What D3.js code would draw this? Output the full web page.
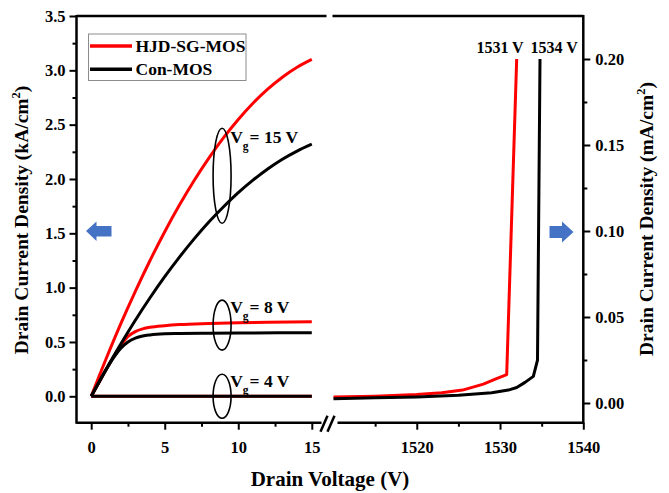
<!DOCTYPE html>
<html>
<head>
<meta charset="utf-8">
<script src="https://cdn.jsdelivr.net/npm/d3@7/dist/d3.min.js"></script>
<style>
  html, body { margin: 0; padding: 0; background: #fff; }
  svg text { font-family: "Liberation Serif", "Times New Roman", serif; font-weight: bold; fill: #000; }
</style>
</head>
<body>
<svg id="chart" width="669" height="493"></svg>
<script>
// Output characteristics (low drain voltage, kA/cm²)
const hjdVg15 = [[0,0],[1,0.341],[2,0.664],[3,0.966],[4,1.250],[5,1.515],[6,1.760],[7,1.986],[8,2.192],[9,2.380],[10,2.548],[11,2.697],[12,2.827],[13,2.937],[14,3.028],[15,3.100]];
const conVg15 = [[0,0],[1,0.246],[2,0.479],[3,0.700],[4,0.907],[5,1.101],[6,1.281],[7,1.449],[8,1.604],[9,1.745],[10,1.874],[11,1.989],[12,2.092],[13,2.182],[14,2.257],[15,2.320]];
const hjdVg8 = [[0,0],[0.5,0.12],[1,0.245],[1.5,0.36],[2,0.465],[2.5,0.55],[3,0.595],[3.5,0.62],[4,0.635],[5,0.65],[6,0.66],[8,0.67],[10,0.677],[12,0.681],[15,0.685]];
const conVg8 = [[0,0],[0.5,0.12],[1,0.24],[1.5,0.35],[2,0.44],[2.5,0.50],[3,0.535],[3.5,0.555],[4,0.565],[5,0.575],[6,0.578],[8,0.581],[10,0.583],[15,0.585]];
const hjdVg4 = [[0,0],[5,0],[10,0],[15,0]];
const conVg4 = [[0,0],[5,0],[10,0],[15,0]];

// Blocking characteristics (mA/cm²)
const hjdBV = [[1510,0.0035],[1515,0.004],[1520,0.005],[1523,0.006],[1525.5,0.0075],[1528,0.011],[1529.5,0.014],[1530.8,0.0165],[1532,0.2]];
const conBV = [[1510,0.0025],[1515,0.003],[1520,0.0035],[1525,0.0045],[1529,0.006],[1531,0.0075],[1532,0.009],[1533,0.012],[1534,0.0155],[1534.5,0.025],[1534.8,0.2]];

const seriesNames = ["HJD-SG-MOS", "Con-MOS"];
const seriesColors = ["#ff0000", "#000000"];

const leftXTicks = [0, 5, 10, 15];
const leftXMinor = [2.5, 7.5, 12.5];
const rightXTicks = [1520, 1530, 1540];
const rightXMinor = [1515, 1525, 1535];
const leftYTicks = [0, 0.5, 1.0, 1.5, 2.0, 2.5, 3.0, 3.5];
const leftYMinor = [0.25, 0.75, 1.25, 1.75, 2.25, 2.75, 3.25];
const rightYTicks = [0, 0.05, 0.10, 0.15, 0.20];
const rightYMinor = [0.025, 0.075, 0.125, 0.175];

const gateLabels = [{vg: "15", y: 2.03, ry: 47.5, ty: 2.33}, {vg: "8", y: 0.655, ry: 25, ty: 0.77}, {vg: "4", y: 0.0, ry: 22, ty: 0.09}];
const bvLabels = [{text: "1531 V", x: 1530}, {text: "1534 V", x: 1536.5}];

const svg = d3.select("#chart");

const plotTop = 16, plotBottom = 422.7;
const xL = d3.scaleLinear().domain([-1, 16]).range([76.5, 326.5]);
const xR = d3.scaleLinear().domain([1510, 1540]).range([333.5, 583.3]);
const yL = d3.scaleLinear().domain([-0.243, 3.5]).range([plotBottom, plotTop]);
const yR = d3.scaleLinear().domain([-0.01145, 0.225]).range([plotBottom, plotTop]);

const fmt1 = d3.format(".1f"), fmt2 = d3.format(".2f");

// Curves
const lineL = d3.line().x(d => xL(d[0])).y(d => yL(d[1])).curve(d3.curveMonotoneX);
const lineR = d3.line().x(d => xR(d[0])).y(d => yR(d[1]));

const curves = svg.append("g").attr("fill", "none").attr("stroke-width", 3).attr("stroke-linejoin", "round");
[[hjdVg4, 0], [hjdVg8, 0], [hjdVg15, 0], [conVg4, 1], [conVg8, 1], [conVg15, 1]].forEach(([d, i]) => {
  curves.append("path").datum(d).attr("d", lineL).attr("stroke", seriesColors[i]);
});
curves.append("path").datum(hjdBV).attr("d", lineR).attr("stroke", seriesColors[0]);
curves.append("path").datum(conBV).attr("d", lineR).attr("stroke", seriesColors[1]);

// Axes
const axisG = svg.append("g");
function styleAxis(g) {
  g.select(".domain").remove();
  g.selectAll("line").attr("stroke", "#000").attr("stroke-width", 2);
  g.selectAll("text").style("font-size", "16.5px").style("font-family", "'Liberation Serif', serif").style("font-weight", "bold");
}
axisG.append("g").attr("transform", `translate(${xL(-1)},0)`)
  .call(d3.axisLeft(yL).tickValues(leftYTicks).tickFormat(fmt1).tickSize(7).tickPadding(4)).call(styleAxis);
axisG.append("g").attr("transform", `translate(${xL(-1)},0)`)
  .call(d3.axisLeft(yL).tickValues(leftYMinor).tickFormat("").tickSize(4)).call(styleAxis);
axisG.append("g").attr("transform", `translate(${xR(1540)},0)`)
  .call(d3.axisRight(yR).tickValues(rightYTicks).tickFormat(fmt2).tickSize(7).tickPadding(5)).call(styleAxis);
axisG.append("g").attr("transform", `translate(${xR(1540)},0)`)
  .call(d3.axisRight(yR).tickValues(rightYMinor).tickFormat("").tickSize(4)).call(styleAxis);
axisG.append("g").attr("transform", `translate(0,${plotBottom})`)
  .call(d3.axisBottom(xL).tickValues(leftXTicks).tickFormat(d3.format("d")).tickSize(7).tickPadding(12)).call(styleAxis);
axisG.append("g").attr("transform", `translate(0,${plotBottom})`)
  .call(d3.axisBottom(xL).tickValues(leftXMinor).tickFormat("").tickSize(4)).call(styleAxis);
axisG.append("g").attr("transform", `translate(0,${plotBottom})`)
  .call(d3.axisBottom(xR).tickValues(rightXTicks).tickFormat(d3.format("d")).tickSize(7).tickPadding(12)).call(styleAxis);
axisG.append("g").attr("transform", `translate(0,${plotBottom})`)
  .call(d3.axisBottom(xR).tickValues(rightXMinor).tickFormat("").tickSize(4)).call(styleAxis);

// Frame lines with the axis break
const frame = svg.append("g").attr("stroke", "#000").attr("stroke-width", 2.5).attr("fill", "none");
const xl0 = xL(-1), xl1 = xL(16), xr0 = xR(1510), xr1 = xR(1540);
frame.append("line").attr("x1", xl0).attr("x2", xl0).attr("y1", plotTop - 1).attr("y2", plotBottom + 1);
frame.append("line").attr("x1", xr1).attr("x2", xr1).attr("y1", plotTop - 1).attr("y2", plotBottom + 1);
frame.append("line").attr("x1", xl0).attr("x2", xl1).attr("y1", plotTop).attr("y2", plotTop);
frame.append("line").attr("x1", xr0 - 1).attr("x2", xr1).attr("y1", plotTop).attr("y2", plotTop);
frame.append("line").attr("x1", xl0).attr("x2", xl1 - 5).attr("y1", plotBottom).attr("y2", plotBottom);
frame.append("line").attr("x1", xr0 + 4).attr("x2", xr1).attr("y1", plotBottom).attr("y2", plotBottom);
frame.append("line").attr("x1", xl1 - 6).attr("y1", plotBottom + 9).attr("x2", xl1 + 1).attr("y2", plotBottom - 7);
frame.append("line").attr("x1", xl1 + 1).attr("y1", plotBottom + 9).attr("x2", xl1 + 8).attr("y2", plotBottom - 7);

// Legend
const lg = svg.append("g");
lg.append("rect").attr("x", 88.5).attr("y", 34).attr("width", 157.5).attr("height", 46.5)
  .attr("fill", "#fff").attr("stroke", "#8c8c8c").attr("stroke-width", 1);
seriesNames.forEach((name, i) => {
  const y = 46 + i * 23.3;
  lg.append("line").attr("x1", 90).attr("x2", 132).attr("y1", y).attr("y2", y)
    .attr("stroke", seriesColors[i]).attr("stroke-width", 3.5);
  lg.append("text").attr("x", 135.5).attr("y", y + 6).style("font-size", "17.5px").text(name);
});

// Gate-voltage annotations
const ann = svg.append("g");
gateLabels.forEach(g => {
  ann.append("ellipse").attr("cx", xL(8.9)).attr("cy", yL(g.y)).attr("rx", 9).attr("ry", g.ry)
    .attr("fill", "none").attr("stroke", "#000").attr("stroke-width", 1.6);
  const t = ann.append("text").attr("x", xL(9.45)).attr("y", yL(g.ty)).style("font-size", "17.5px");
  t.append("tspan").text("V");
  t.append("tspan").attr("dy", 7).style("font-size", "11.5px").text("g");
  t.append("tspan").attr("dy", -7).attr("dx", 1).text(`= ${g.vg} V`);
});

// Breakdown voltage labels
bvLabels.forEach(b => {
  svg.append("text").attr("x", xR(b.x)).attr("y", 53).attr("text-anchor", "middle")
    .style("font-size", "16px").text(b.text);
});

// Axis arrows
const arrowColor = "#4472c4";
svg.append("path").attr("fill", arrowColor)
  .attr("d", "M86,231 L96.5,221.5 L96.5,226 L111.5,226 L111.5,236.5 L96.5,236.5 L96.5,241 Z");
svg.append("path").attr("fill", arrowColor)
  .attr("d", "M573.5,232 L562,221.5 L562,226 L549.5,226 L549.5,238 L562,238 L562,242.5 Z");

// Axis titles
svg.append("text").attr("x", 330).attr("y", 486).attr("text-anchor", "middle")
  .style("font-size", "21px").text("Drain Voltage (V)");

const yt1 = svg.append("text").attr("transform", "translate(28,220) rotate(-90)")
  .attr("text-anchor", "middle").style("font-size", "19.5px");
yt1.append("tspan").text("Drain Current Density (kA/cm");
yt1.append("tspan").attr("dy", -8).style("font-size", "12.5px").text("2");
yt1.append("tspan").attr("dy", 8).text(")");

const yt2 = svg.append("text").attr("transform", "translate(653,219) rotate(-90)")
  .attr("text-anchor", "middle").style("font-size", "19.5px");
yt2.append("tspan").text("Drain Current Density (mA/cm");
yt2.append("tspan").attr("dy", -8).style("font-size", "12.5px").text("2");
yt2.append("tspan").attr("dy", 8).text(")");
</script>
</body>
</html>
